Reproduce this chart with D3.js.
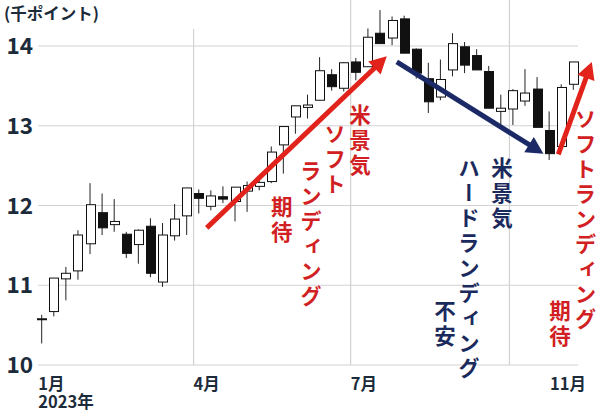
<!DOCTYPE html>
<html><head><meta charset="utf-8">
<script src="https://cdn.jsdelivr.net/npm/d3@7"></script>
<style>
html,body{margin:0;padding:0;background:#fff;}
svg{display:block;font-family:"Noto Sans CJK JP","Noto Sans",sans-serif;}
</style></head><body>
<svg id="c" width="600" height="411"></svg>
<script>
// weekly candles (week index from first week of 2023), values in thousand points
const open  = [10.57,10.67,11.08,11.18,11.52,11.91,11.76,11.64,11.51,11.74,11.04,11.62,11.87,12.15,11.99,12.11,12.05,12.18,12.24,12.30,12.76,13.11,13.23,13.32,13.64,13.47,13.80,13.74,14.16,14.10,14.34,13.96,13.59,13.36,13.70,13.99,13.88,13.68,13.18,13.21,13.31,13.46,12.94,12.74,13.52];
const high  = [10.63,11.09,11.23,11.69,12.28,12.15,12.08,11.67,11.70,11.84,11.78,12.02,12.22,12.20,12.19,12.24,12.23,12.30,12.32,12.74,12.99,13.25,13.39,13.86,13.71,13.80,13.85,14.22,14.45,14.37,14.38,13.97,13.79,13.83,14.16,14.05,13.96,13.75,13.39,13.46,13.71,13.61,13.18,13.52,13.80];
const low   = [10.27,10.61,10.81,11.07,11.39,11.63,11.67,11.34,11.27,11.10,10.98,11.56,11.63,11.90,11.94,12.03,11.80,11.92,12.19,12.28,12.40,12.90,13.09,13.32,13.44,13.43,13.57,13.74,14.03,14.01,13.91,13.59,13.16,13.32,13.62,13.66,13.70,13.22,13.00,13.01,13.25,12.98,12.57,12.74,13.45];
const close = [10.58,11.09,11.15,11.63,12.01,11.72,11.80,11.40,11.69,11.15,11.63,11.83,12.22,12.09,12.12,12.08,12.23,12.25,12.29,12.67,12.99,13.25,13.26,13.69,13.49,13.79,13.67,14.11,14.03,14.32,13.91,13.66,13.30,13.58,14.03,13.76,13.70,13.22,13.22,13.44,13.41,12.98,12.65,13.48,13.80];
const firstWeek = "2023-01-03";
const yTicks = [10,11,12,13,14];
const monthLines = ["2023-04-01","2023-07-01","2023-10-01"];
const monthLabels = [["2023-01-01","1月","2023年"],["2023-04-01","4月"],["2023-07-01","7月"],["2023-11-01","11月"]];
const unitLabel = "(千ポイント)";
// annotation arrows: [week index, value] start -> end
const arrows = [
  {from:[13.66,11.72], to:[28.56,13.87], color:"#e2231c"},
  {from:[29.39,13.80], to:[41.53,12.65], color:"#1b2a66"},
  {from:[42.76,12.64], to:[45.53,13.80], color:"#e2231c"}
];
// vertical annotation columns: text, week index, value of top
const notes = [
  {t:"米景気", w:26.35, v:13.27, c:"#d11f24"},
  {t:"ソフト", w:24.28, v:13.03, c:"#d11f24"},
  {t:"ランディング", w:22.3, v:12.57, c:"#d11f24"},
  {t:"期待", w:19.87, v:12.12, c:"#d11f24"},
  {t:"米景気", w:38.10, v:12.61, c:"#1b2a5c"},
  {t:"ハードランディング", w:35.37, v:12.61, c:"#1b2a5c"},
  {t:"不安", w:33.38, v:10.82, c:"#1b2a5c"},
  {t:"ソフトランディング", w:45.0, v:13.22, c:"#d11f24"},
  {t:"期待", w:42.9, v:10.82, c:"#d11f24"}
];

const parse = d3.utcParse("%Y-%m-%d");
const d0 = parse(firstWeek);
const DAY = 86400000;
const wk = i => new Date(d0.getTime() + i*7*DAY);
const n = open.length;

const svg = d3.select("#c");
const x = d3.scaleUtc().domain([wk(0), wk(n-1)]).range([41.7, 573.3]);
const y = d3.scaleLinear().domain([10,14]).range([365,46]);
const xi = i => x(wk(i));

// horizontal grid
svg.append("g").selectAll("line").data(yTicks).join("line")
  .attr("x1",38).attr("x2",578)
  .attr("y1",d=>y(d)).attr("y2",d=>y(d))
  .attr("stroke","#d2d2d2").attr("stroke-width",1.2);
// vertical grid
svg.append("g").selectAll("line").data(monthLines).join("line")
  .attr("x1",d=>x(parse(d))).attr("x2",d=>x(parse(d)))
  .attr("y1",(d,i)=> i===0 ? 29 : 0).attr("y2",y(10))
  .attr("stroke","#d2d2d2").attr("stroke-width",1.2);

// y labels
svg.append("g").selectAll("text").data(yTicks).join("text")
  .attr("x",33).attr("y",d=>y(d)).attr("dy","0.36em")
  .attr("text-anchor","end").attr("font-size",22.5).attr("font-weight",700)
  .attr("fill","#1c2b3a").text(d=>d);
svg.append("text").attr("x",4).attr("y",20).attr("font-size",16.5).attr("font-weight",700)
  .attr("fill","#1c2b3a").text(unitLabel);

// x labels (multi-line for the first)
const xl = svg.append("g").selectAll("text").data(monthLabels).join("text")
  .attr("y",389.5).attr("font-size",16.5).attr("font-weight",700).attr("fill","#1c2b3a");
xl.each(function(d){
  const t = d3.select(this);
  const first = t.append("tspan").text(d[1]);
  const w = first.node().getComputedTextLength();
  let px = x(parse(d[0]));
  if (px + w > 586) px = 586 - w;
  if (px < 38) px = 38;
  t.attr("x", px);
  first.attr("x", px);
  if (d[2]) t.append("tspan").attr("x", px).attr("dy", 18).text(d[2]);
});

// candles
const idx = d3.range(n);
const bw = 9;
const cg = svg.append("g");
cg.selectAll("line").data(idx).join("line")
  .attr("x1",i=>xi(i)).attr("x2",i=>xi(i))
  .attr("y1",i=>y(high[i])).attr("y2",i=>y(low[i]))
  .attr("stroke","#222").attr("stroke-width",1);
cg.selectAll("rect").data(idx).join("rect")
  .attr("x",i=>Math.round(xi(i)-bw/2)+0.5)
  .attr("y",i=>y(Math.max(open[i],close[i])))
  .attr("width",bw)
  .attr("height",i=>Math.max(1,y(Math.min(open[i],close[i]))-y(Math.max(open[i],close[i]))))
  .attr("fill",i=>close[i]<open[i]?"#111":"#fff")
  .attr("stroke","#111").attr("stroke-width",1);

// arrows
arrows.forEach(a=>{
  const x1 = xi(a.from[0]), y1 = y(a.from[1]), x2 = xi(a.to[0]), y2 = y(a.to[1]);
  const ang = Math.atan2(y2-y1, x2-x1);
  const L = 17, W = 9;
  const bx = x2 - L*Math.cos(ang), by = y2 - L*Math.sin(ang);
  svg.append("line").attr("x1",x1).attr("y1",y1).attr("x2",bx+2*Math.cos(ang)).attr("y2",by+2*Math.sin(ang))
    .attr("stroke",a.color).attr("stroke-width",5);
  const p = [[x2,y2],[bx + W*Math.sin(ang), by - W*Math.cos(ang)],[bx - W*Math.sin(ang), by + W*Math.cos(ang)]];
  svg.append("path").attr("d","M"+p.map(q=>q.join(",")).join("L")+"Z").attr("fill",a.color);
});

// vertical notes
svg.append("g").selectAll("text").data(notes).join("text")
  .attr("x",d=>xi(d.w)).attr("y",d=>y(d.v))
  .attr("writing-mode","vertical-rl")
  .style("writing-mode","vertical-rl")
  .style("text-orientation","mixed")
  .attr("font-size",21.5).attr("font-weight",700)
  .attr("letter-spacing",3.5)
  .attr("fill",d=>d.c).text(d=>d.t);
</script>
</body></html>
